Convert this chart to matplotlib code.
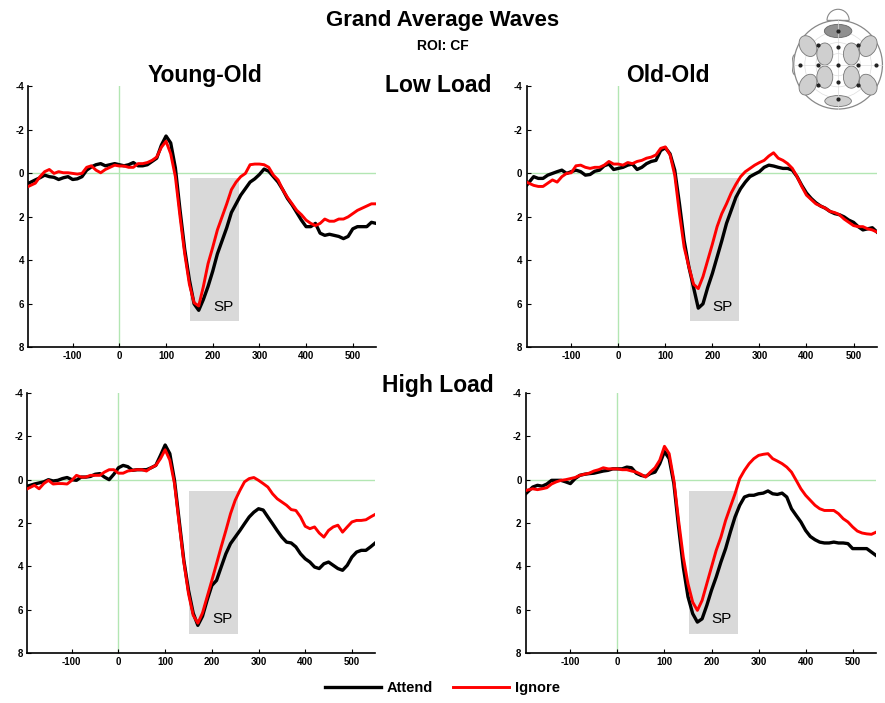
import numpy as np
import matplotlib
matplotlib.use('Agg')
import matplotlib.pyplot as plt
from matplotlib.patches import Circle, Ellipse, Rectangle, Wedge
from matplotlib.lines import Line2D

plt.rcParams['font.family'] = ['Liberation Sans', 'DejaVu Sans']
plt.rcParams['axes.unicode_minus'] = False
narrow = ['Liberation Sans Narrow', 'Liberation Sans', 'DejaVu Sans']

# time axis (ms)
time_ms = np.r_[-195, np.arange(-180, 551, 10)]

# Young-Old, Low Load
yo_low_attend = [0.46, 0.3, 0.2, 0.08, 0.15, 0.18, 0.28, 0.2, 0.15, 0.28, 0.25, 0.15,
                 -0.15, -0.3, -0.4, -0.45, -0.35, -0.4, -0.45, -0.4, -0.35, -0.4, -0.5,
                 -0.35, -0.35, -0.4, -0.55, -0.7, -1.3, -1.72, -1.4, -0.25, 1.7, 3.5,
                 4.9, 6.0, 6.3, 5.8, 5.2, 4.5, 3.7, 3.1, 2.5, 1.8, 1.4, 1.0, 0.7, 0.4,
                 0.25, 0.05, -0.2, -0.1, 0.15, 0.4, 0.75, 1.15, 1.45, 1.8, 2.15, 2.45,
                 2.45, 2.3, 2.75, 2.85, 2.8, 2.85, 2.9, 3.0, 2.9, 2.55, 2.45, 2.45,
                 2.45, 2.25, 2.3]
yo_low_ignore = [0.6, 0.45, 0.15, -0.08, -0.18, 0.0, -0.08, -0.03, -0.03, 0.0, 0.03, 0.0,
                 -0.28, -0.35, -0.15, -0.03, -0.18, -0.28, -0.38, -0.34, -0.34, -0.28,
                 -0.28, -0.45, -0.45, -0.5, -0.6, -0.75, -1.2, -1.48, -0.9, 0.15, 2.0,
                 3.7, 5.1, 5.95, 6.1, 5.2, 4.15, 3.4, 2.6, 2.0, 1.4, 0.75, 0.4, 0.15,
                 0.0, -0.4, -0.43, -0.43, -0.4, -0.28, 0.08, 0.3, 0.75, 1.1, 1.4, 1.7,
                 1.9, 2.15, 2.3, 2.4, 2.3, 2.1, 2.2, 2.2, 2.1, 2.1, 2.0, 1.85, 1.7, 1.6,
                 1.5, 1.4, 1.4]

# Old-Old, Low Load
oo_low_attend = [0.55, 0.15, 0.23, 0.23, 0.08, 0.0, -0.08, -0.15, 0.0, -0.08, -0.15,
                 -0.08, 0.08, 0.05, -0.1, -0.15, -0.35, -0.43, -0.18, -0.23, -0.28,
                 -0.38, -0.43, -0.18, -0.28, -0.45, -0.55, -0.6, -1.05, -1.18, -0.9,
                 -0.15, 1.4, 3.1, 4.3, 5.25, 6.2, 6.0, 5.25, 4.6, 3.85, 3.1, 2.3, 1.7,
                 1.1, 0.7, 0.4, 0.15, 0.03, -0.08, -0.28, -0.38, -0.34, -0.28, -0.23,
                 -0.23, -0.15, 0.15, 0.55, 0.9, 1.15, 1.35, 1.5, 1.6, 1.75, 1.85, 1.9,
                 2.0, 2.15, 2.25, 2.45, 2.6, 2.55, 2.5, 2.7]
oo_low_ignore = [0.4, 0.55, 0.6, 0.6, 0.45, 0.3, 0.4, 0.15, 0.0, -0.03, -0.35, -0.38,
                 -0.28, -0.23, -0.28, -0.28, -0.38, -0.55, -0.43, -0.43, -0.38, -0.5,
                 -0.45, -0.55, -0.6, -0.7, -0.75, -0.85, -1.15, -1.22, -0.85, 0.08,
                 1.85, 3.4, 4.3, 5.1, 5.3, 4.75, 4.0, 3.25, 2.45, 1.85, 1.4, 0.9, 0.5,
                 0.15, -0.08, -0.23, -0.38, -0.5, -0.6, -0.8, -0.95, -0.7, -0.6, -0.45,
                 -0.23, 0.15, 0.6, 1.0, 1.2, 1.4, 1.5, 1.6, 1.75, 1.8, 1.9, 2.1, 2.25,
                 2.4, 2.45, 2.45, 2.55, 2.6, 2.7]

# Young-Old, High Load
yo_high_attend = [0.3, 0.2, 0.15, 0.1, 0.0, 0.06, 0.03, -0.05, -0.1, 0.0, 0.03, -0.12,
                  -0.12, -0.15, -0.25, -0.28, -0.12, 0.0, -0.25, -0.55, -0.66, -0.6,
                  -0.43, -0.46, -0.46, -0.46, -0.55, -0.66, -1.12, -1.6, -1.2, 0.03,
                  1.88, 3.72, 5.1, 6.15, 6.72, 6.3, 5.55, 4.88, 4.65, 4.03, 3.42, 2.95,
                  2.65, 2.35, 2.03, 1.72, 1.5, 1.34, 1.4, 1.72, 2.03, 2.35, 2.65, 2.88,
                  2.92, 3.1, 3.42, 3.65, 3.8, 4.03, 4.1, 3.88, 3.8, 3.95, 4.1, 4.18,
                  3.95, 3.57, 3.34, 3.26, 3.26, 3.1, 2.92]
yo_high_ignore = [0.42, 0.26, 0.42, 0.18, 0.03, 0.2, 0.18, 0.18, 0.2, 0.03, -0.2, -0.12,
                  -0.12, -0.2, -0.2, -0.2, -0.35, -0.46, -0.46, -0.3, -0.3, -0.4,
                  -0.43, -0.46, -0.46, -0.4, -0.55, -0.66, -0.97, -1.38, -0.9, 0.18,
                  2.03, 3.8, 5.26, 6.25, 6.62, 6.15, 5.4, 4.65, 3.88, 3.1, 2.35, 1.57,
                  0.95, 0.5, 0.1, -0.05, -0.1, 0.03, 0.18, 0.34, 0.65, 0.88, 1.03,
                  1.18, 1.38, 1.42, 1.72, 2.15, 2.26, 2.18, 2.46, 2.65, 2.34, 2.18,
                  2.1, 2.42, 2.18, 1.95, 1.88, 1.88, 1.85, 1.72, 1.6]

# Old-Old, High Load
oo_high_attend = [0.65, 0.34, 0.26, 0.3, 0.2, 0.03, 0.03, 0.03, 0.1, 0.18, -0.05, -0.2,
                  -0.25, -0.28, -0.3, -0.35, -0.4, -0.43, -0.5, -0.5, -0.5, -0.58,
                  -0.55, -0.3, -0.2, -0.15, -0.28, -0.35, -0.74, -1.3, -0.97, 0.18,
                  2.18, 4.03, 5.4, 6.18, 6.57, 6.42, 5.8, 5.1, 4.49, 3.8, 3.18, 2.42,
                  1.72, 1.18, 0.8, 0.72, 0.72, 0.65, 0.62, 0.52, 0.65, 0.68, 0.62,
                  0.8, 1.34, 1.65, 1.95, 2.34, 2.62, 2.77, 2.88, 2.92, 2.92, 2.88,
                  2.92, 2.92, 2.95, 3.18, 3.18, 3.18, 3.18, 3.34, 3.5]
oo_high_ignore = [0.5, 0.42, 0.46, 0.42, 0.37, 0.2, 0.1, 0.03, 0.0, -0.05, -0.1, -0.2,
                  -0.25, -0.3, -0.4, -0.46, -0.55, -0.5, -0.5, -0.5, -0.46, -0.46,
                  -0.4, -0.35, -0.25, -0.12, -0.35, -0.55, -0.9, -1.54, -1.2, 0.03,
                  1.88, 3.57, 4.8, 5.65, 6.03, 5.57, 4.8, 4.03, 3.26, 2.65, 1.88, 1.26,
                  0.65, -0.05, -0.43, -0.74, -0.97, -1.12, -1.17, -1.2, -0.97, -0.86,
                  -0.74, -0.58, -0.35, 0.03, 0.42, 0.72, 0.95, 1.18, 1.34, 1.42, 1.42,
                  1.42, 1.57, 1.8, 1.95, 2.18, 2.37, 2.46, 2.5, 2.52, 2.42]

x_ticks = [-100, 0, 100, 200, 300, 400, 500]
y_ticks = [-4, -2, 0, 2, 4, 6, 8]

fig = plt.figure(figsize=(8.85, 7.03), dpi=100)

panels = [
    ([0.032, 0.506, 0.393, 0.371], yo_low_attend, yo_low_ignore, (0.2, 6.8)),
    ([0.595, 0.506, 0.396, 0.371], oo_low_attend, oo_low_ignore, (0.2, 6.8)),
    ([0.031, 0.071, 0.393, 0.370], yo_high_attend, yo_high_ignore, (0.5, 7.1)),
    ([0.594, 0.071, 0.396, 0.370], oo_high_attend, oo_high_ignore, (0.5, 7.1)),
]

for rect, attend, ignore, (sp_top, sp_bot) in panels:
    ax = fig.add_axes(rect)
    ax.add_patch(Rectangle((152, sp_top), 104, sp_bot - sp_top,
                           facecolor='#d9d9d9', edgecolor='none', zorder=0))
    ax.axvline(0, color='#b3e6b3', lw=1, zorder=1)
    ax.axhline(0, color='#b3e6b3', lw=1, zorder=1)
    ax.plot(time_ms, attend, color='black', lw=2.4, zorder=3)
    ax.plot(time_ms, ignore, color='#ff0000', lw=2.1, zorder=4)
    ax.text(222, sp_bot - 0.65, 'SP', fontsize=11, ha='center', va='center')
    ax.set_xlim(-195, 550)
    ax.set_ylim(8, -4)
    ax.set_xticks(x_ticks)
    ax.set_yticks(y_ticks)
    ax.tick_params(direction='in', length=3, width=0.8, labelsize=7, pad=3)
    for lab in ax.get_xticklabels() + ax.get_yticklabels():
        lab.set_fontweight('bold')
    for s in ['top', 'right']:
        ax.spines[s].set_visible(False)
    for s in ['left', 'bottom']:
        ax.spines[s].set_linewidth(1.2)

fig.text(0.5, 0.971, 'Grand Average Waves', ha='center', va='center',
         fontsize=16, fontweight='bold', family=narrow)
fig.text(0.5, 0.935, 'ROI: CF', ha='center', va='center',
         fontsize=10, fontweight='bold', family=narrow)
fig.text(0.232, 0.893, 'Young-Old', ha='center', va='center',
         fontsize=16.5, fontweight='bold', family=narrow)
fig.text(0.755, 0.893, 'Old-Old', ha='center', va='center',
         fontsize=16.5, fontweight='bold', family=narrow)
fig.text(0.495, 0.879, 'Low Load', ha='center', va='center',
         fontsize=16.5, fontweight='bold', family=narrow)
fig.text(0.495, 0.451, 'High Load', ha='center', va='center',
         fontsize=16.5, fontweight='bold', family=narrow)

# legend
handles = [Line2D([], [], color='black', lw=2.4), Line2D([], [], color='#ff0000', lw=2.1)]
leg = fig.legend(handles, ['Attend', 'Ignore'], loc='center', bbox_to_anchor=(0.5, 0.021),
                 ncol=2, frameon=False, handlelength=3.8, columnspacing=1.4,
                 handletextpad=0.4, prop={'weight': 'bold', 'size': 10.5, 'family': narrow})

# head map icon
hx = fig.add_axes([0.895, 0.843, 0.104, 0.152])
hx.set_xlim(-1.03, 1.03)
hx.set_ylim(-1.03, 1.38)
hx.set_aspect('equal')
hx.axis('off')
edge = '#888888'
hx.add_patch(Wedge((0, 1.0), 0.25, 0, 180, facecolor='white', edgecolor=edge, lw=0.8))
hx.add_patch(Ellipse((-0.98, 0.0), 0.12, 0.45, facecolor='white', edgecolor=edge, lw=0.8))
hx.add_patch(Circle((0, 0), 1.0, facecolor='white', edgecolor=edge, lw=0.9))
for r in [0.25, 0.5, 0.75]:
    hx.add_patch(Circle((0, 0), r, facecolor='none', edgecolor='#dddddd', lw=0.5))
hx.plot([-1, 1], [0, 0], color='#dddddd', lw=0.5)
hx.plot([0, 0], [-1, 1], color='#dddddd', lw=0.5)
hx.add_patch(Ellipse((0, 0.76), 0.62, 0.3, facecolor='#909090', edgecolor='#666666', lw=0.6))
regions = [(-0.68, 0.42, 30), (0.68, 0.42, -30), (-0.3, 0.24, 0), (0.3, 0.24, 0),
           (-0.3, -0.28, 0), (0.3, -0.28, 0), (-0.68, -0.45, -30), (0.68, -0.45, 30)]
for cx, cy, ang in regions:
    hx.add_patch(Ellipse((cx, cy), 0.36, 0.5, angle=ang, facecolor='#cfcfcf',
                         edgecolor='#777777', lw=0.6))
hx.add_patch(Ellipse((0, -0.82), 0.6, 0.25, facecolor='#cfcfcf', edgecolor='#777777', lw=0.6))
dots_x = [0, 0, 0, 0, 0, -0.45, -0.85, 0.45, 0.85, -0.45, 0.45, -0.45, 0.45]
dots_y = [0.75, 0.4, 0, -0.4, -0.78, 0, 0, 0, 0, 0.45, 0.45, -0.45, -0.45]
hx.scatter(dots_x, dots_y, s=4, color='#222222', zorder=5)

fig.savefig('out.png', dpi=100)
